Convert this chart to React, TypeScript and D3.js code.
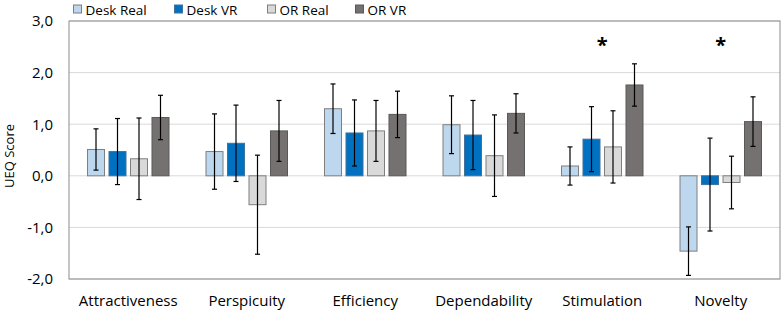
import React from "react";
import * as d3 from "d3";

const categories = ["Attractiveness", "Perspicuity", "Efficiency", "Dependability", "Stimulation", "Novelty"];
const seriesNames = ["Desk Real", "Desk VR", "OR Real", "OR VR"];
const deskReal = [0.51, 0.47, 1.3, 0.99, 0.19, -1.46];
const deskRealErr = [0.4, 0.73, 0.48, 0.56, 0.37, 0.47];
const deskVR = [0.47, 0.63, 0.83, 0.79, 0.71, -0.17];
const deskVRErr = [0.64, 0.74, 0.64, 0.67, 0.63, 0.9];
const orReal = [0.33, -0.56, 0.87, 0.39, 0.56, -0.13];
const orRealErr = [0.79, 0.96, 0.59, 0.79, 0.7, 0.51];
const orVR = [1.13, 0.87, 1.19, 1.21, 1.76, 1.05];
const orVRErr = [0.43, 0.59, 0.45, 0.38, 0.41, 0.48];
const significant = ["Stimulation", "Novelty"];
const yTicks = [-2, -1, 0, 1, 2, 3];
const yLabel = "UEQ Score";

const seriesValues = [deskReal, deskVR, orReal, orVR];
const seriesErrors = [deskRealErr, deskVRErr, orRealErr, orVRErr];
const fills = ["#BDD7EE", "#0070C0", "#D9D9D9", "#767171"];
const strokes = ["#7f7f7f", "#41719C", "#7f7f7f", "#595959"];

const W = 782;
const H = 312;
const left = 69;
const right = 780;
const top = 21;
const bottom = 279;
const font = "'Open Sans', sans-serif";

export default function App() {
  const x0 = d3.scaleBand<string>().domain(categories).range([left, right]).padding(0);
  const bw0 = x0.bandwidth();
  const groupSpan = 81.5;
  const x1 = d3
    .scaleBand<string>()
    .domain(seriesNames)
    .range([(bw0 - groupSpan) / 2, (bw0 + groupSpan) / 2])
    .paddingInner(0.209)
    .paddingOuter(0);
  const y = d3.scaleLinear().domain([-2, 3]).range([bottom, top]);
  const fmt = (v: number) => v.toFixed(1).replace(".", ",");

  const legendX = [73, 174, 267, 355];

  return (
    <svg width={W} height={H} style={{ position: "absolute", left: 0, top: 0, background: "#fff" }}>
      <rect x={0} y={0} width={W} height={H} fill="#fff" />
      {yTicks.map((t) => (
        <line key={"g" + t} x1={left} x2={right} y1={y(t)} y2={y(t)} stroke="#d9d9d9" strokeWidth={1} />
      ))}
      {yTicks.map((t) => (
        <text
          key={"t" + t}
          x={53}
          y={y(t)}
          dy="0.36em"
          textAnchor="end"
          fontFamily={font}
          fontSize={15}
          fill="#000"
        >
          {fmt(t)}
        </text>
      ))}
      <text
        transform={`translate(14,${156}) rotate(-90)`}
        textAnchor="middle"
        fontFamily={font}
        fontSize={13}
        fill="#000"
      >
        {yLabel}
      </text>
      {categories.map((c, i) => (
        <g key={c} transform={`translate(${x0(c)},0)`}>
          {seriesNames.map((s, k) => {
            const v = seriesValues[k][i];
            const e = seriesErrors[k][i];
            const bx = x1(s) as number;
            const bw = x1.bandwidth();
            const cx = bx + bw / 2;
            return (
              <g key={s}>
                <rect
                  x={bx}
                  y={Math.min(y(v), y(0))}
                  width={bw}
                  height={Math.abs(y(v) - y(0))}
                  fill={fills[k]}
                  stroke={strokes[k]}
                  strokeWidth={1}
                />
                <line x1={cx} x2={cx} y1={y(v + e)} y2={y(v - e)} stroke="#000" strokeWidth={1.2} />
                <line x1={cx - 2.5} x2={cx + 2.5} y1={y(v + e)} y2={y(v + e)} stroke="#000" strokeWidth={1.2} />
                <line x1={cx - 2.5} x2={cx + 2.5} y1={y(v - e)} y2={y(v - e)} stroke="#000" strokeWidth={1.2} />
              </g>
            );
          })}
          {significant.includes(c) && (
            <text
              x={bw0 / 2}
              y={52}
              textAnchor="middle"
              fontFamily={font}
              fontSize={20}
              fontWeight="bold"
              fill="#000"
            >
              *
            </text>
          )}
          <text
            x={bw0 / 2}
            y={306}
            textAnchor="middle"
            fontFamily={font}
            fontSize={15}
            fill="#000"
          >
            {c}
          </text>
        </g>
      ))}
      <rect x={left} y={top} width={right - left} height={bottom - top} fill="none" stroke="#8c8c8c" strokeWidth={1} />
      {seriesNames.map((s, k) => (
        <g key={"l" + s} transform={`translate(${legendX[k]},0)`}>
          <rect x={0.5} y={5} width={8} height={8} fill={fills[k]} stroke={strokes[k]} strokeWidth={1} />
          <text x={12.5} y={14.5} fontFamily={font} fontSize={13.5} fill="#000">
            {s}
          </text>
        </g>
      ))}
    </svg>
  );
}
